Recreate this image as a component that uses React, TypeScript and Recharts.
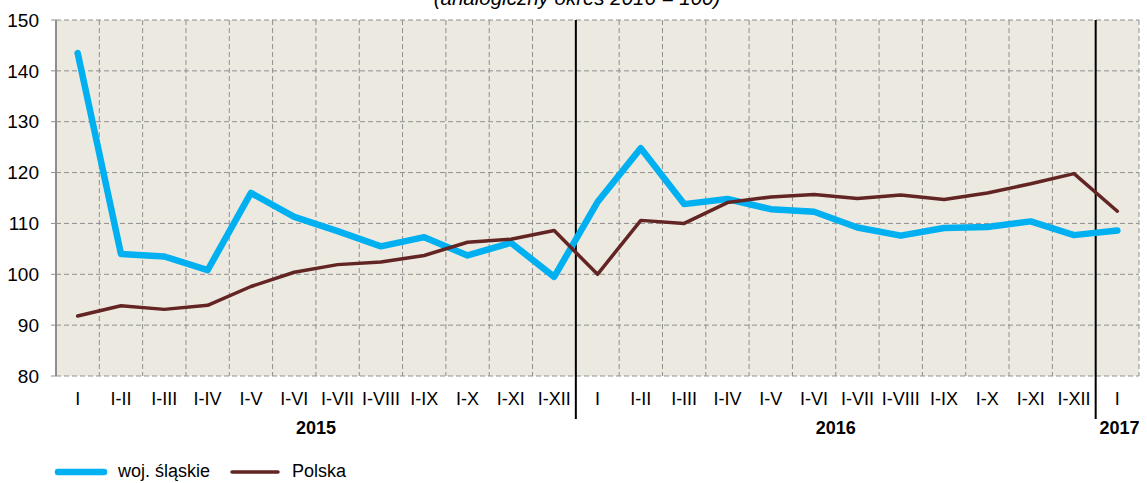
import React from 'react';
import { LineChart, Line, XAxis, YAxis, CartesianGrid, ReferenceLine, Legend, Customized } from 'recharts';

const months = [
  'I', 'I-II', 'I-III', 'I-IV', 'I-V', 'I-VI', 'I-VII', 'I-VIII', 'I-IX', 'I-X', 'I-XI', 'I-XII',
  'I', 'I-II', 'I-III', 'I-IV', 'I-V', 'I-VI', 'I-VII', 'I-VIII', 'I-IX', 'I-X', 'I-XI', 'I-XII',
  'I',
];
const slaskie = [
  143.5, 104.0, 103.5, 100.8, 116.0, 111.3, 108.5, 105.5, 107.3, 103.7, 106.2, 99.5,
  114.2, 124.8, 113.8, 114.8, 112.8, 112.3, 109.2, 107.6, 109.1, 109.3, 110.4, 107.7,
  108.6,
];
const polska = [
  91.8, 93.8, 93.1, 93.9, 97.6, 100.4, 101.9, 102.4, 103.7, 106.3, 106.9, 108.6,
  100.0, 110.6, 110.0, 114.1, 115.2, 115.7, 114.9, 115.6, 114.7, 116.0, 117.8, 119.8,
  112.4,
];
const years = ['2015', '2016', '2017'];
const yearTicks = [6, 18, 24.55];
const yearBreaks = [12, 24];
const yTicks = [80, 90, 100, 110, 120, 130, 140, 150];

const BLUE = '#00B0F0';
const BROWN = '#632523';
const GRID = '#8f8f8f';
const FONT = 'Arial, "Liberation Sans", sans-serif';

// each month sits in the middle of its slot on a 0..n axis
const data = months.map((m, i) => ({ pos: i + 0.5, label: m, slaskie: slaskie[i], polska: polska[i] }));
const slotBounds = months.map((_, i) => i).concat(months.length);
const labelTicks = data.map((d) => d.pos);

const series = [
  { key: 'slaskie', name: 'woj. śląskie', color: BLUE, width: 6.5 },
  { key: 'polska', name: 'Polska', color: BROWN, width: 3.5 },
];

const LegendContent = () => (
  <div style={{ display: 'flex', alignItems: 'center', fontFamily: FONT, fontSize: 18, color: '#000' }}>
    {series.map((s) => (
      <div key={s.key} style={{ display: 'flex', alignItems: 'center', marginRight: 18 }}>
        <svg width={54} height={10} style={{ marginRight: 10 }}>
          <line x1={4} y1={5} x2={50} y2={5} stroke={s.color} strokeWidth={s.width} strokeLinecap="round" />
        </svg>
        <span>{s.name}</span>
      </div>
    ))}
  </div>
);

const Title = () => (
  <text x={577} y={5} textAnchor="middle" fontFamily={FONT} fontSize={20.5} fontStyle="italic" fill="#000">
    (analogiczny okres 2016 = 100)
  </text>
);

export default function App() {
  return (
    <div style={{ position: 'absolute', left: 0, top: 0 }}>
      <LineChart width={1147} height={483} data={data} margin={{ top: 20, right: 8, bottom: 41, left: 0 }}>
        <CartesianGrid xAxisId="grid" stroke={GRID} strokeDasharray="5 3" fill="#ECE9E1" />
        <XAxis xAxisId="grid" type="number" dataKey="pos" domain={[0, months.length]} ticks={slotBounds}
          height={0} tickSize={6} tickFormatter={() => ''} axisLine={{ stroke: GRID, strokeWidth: 2 }}
          tickLine={{ stroke: GRID }} interval={0} />
        <XAxis xAxisId="cat" type="number" dataKey="pos" domain={[0, months.length]} ticks={labelTicks}
          height={44} tickSize={0} tickMargin={16} axisLine={false} tickLine={false} interval={0}
          tickFormatter={(_v: any, i: number) => months[i]}
          tick={{ fill: '#000', fontSize: 18, fontFamily: FONT }} />
        <XAxis xAxisId="year" type="number" dataKey="pos" domain={[0, months.length]} ticks={yearTicks}
          height={22} tickSize={0} tickMargin={1} axisLine={false} tickLine={false} interval={0}
          tickFormatter={(_v: any, i: number) => years[i]}
          tick={{ fill: '#000', fontSize: 18, fontFamily: FONT, fontWeight: 'bold' }} />
        <YAxis domain={[80, 150]} ticks={yTicks} width={56} tickSize={5} tickMargin={12} interval={0}
          axisLine={{ stroke: GRID, strokeWidth: 2 }} tickLine={{ stroke: GRID }}
          tick={{ fill: '#000', fontSize: 19, fontFamily: FONT }} />
        {yearBreaks.map((b) => (
          <ReferenceLine key={b} xAxisId="grid" x={b} stroke="#000" strokeWidth={2}
            shape={(p: any) => (
              <line x1={p.x1} x2={p.x2} y1={Math.min(p.y1, p.y2)} y2={Math.max(p.y1, p.y2) + 43}
                stroke="#000" strokeWidth={2} />
            )} />
        ))}
        {series.map((s) => (
          <Line key={s.key} xAxisId="cat" type="linear" dataKey={s.key} name={s.name} stroke={s.color}
            strokeWidth={s.width} dot={false} activeDot={false} strokeLinecap="round"
            strokeLinejoin="round" isAnimationActive={false} />
        ))}
        <Legend layout="horizontal" verticalAlign="middle" align="center" content={<LegendContent />}
          wrapperStyle={{ position: 'absolute', left: 54, top: 461, width: 500 }} />
        <Customized component={Title} />
      </LineChart>
    </div>
  );
}
